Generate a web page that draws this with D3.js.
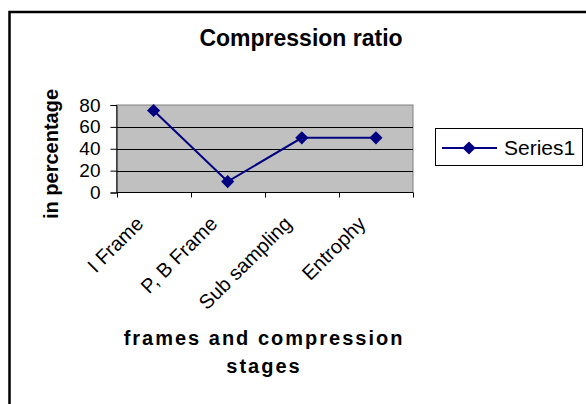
<!DOCTYPE html>
<html><head><meta charset="utf-8">
<script src="https://cdn.jsdelivr.net/npm/d3@7"></script>
<style>body{margin:0;background:#fff}svg{display:block;font-family:"Liberation Sans",Arial,sans-serif}</style>
</head><body><svg id="c" width="586" height="404"></svg>
<script>
const categories = ["I Frame", "P, B Frame", "Sub sampling", "Entrophy"];
const series1 = [75, 10, 50, 50];
const yTicks = [0, 20, 40, 60, 80];
const seriesName = "Series1";
const title = "Compression ratio";
const yTitle = "in percentage";
const xTitleLines = ["frames and compression", "stages"];

const svg = d3.select("#c");
// outer frame
svg.append("rect").attr("x", 9.5).attr("y", 12).attr("width", 600).attr("height", 420)
  .attr("fill", "none").attr("stroke", "#000").attr("stroke-width", 2.5);

const L = 116.5, R = 413, T = 105, B = 192.5;
const x = d3.scaleBand().domain(categories).range([L, R]);
const y = d3.scaleLinear().domain([0, 80]).range([B, T]);

// plot area
svg.append("rect").attr("x", L).attr("y", T).attr("width", R - L).attr("height", B - T)
  .attr("fill", "#c0c0c0").attr("stroke", "#808080").attr("stroke-width", 1);
// gridlines
svg.append("g").selectAll("line").data(yTicks.filter(d => d > 0 && d < 80)).join("line")
  .attr("x1", L).attr("x2", R).attr("y1", d => Math.round(y(d)) + 0.5).attr("y2", d => Math.round(y(d)) + 0.5)
  .attr("stroke", "#000").attr("stroke-width", 1);

// y axis
const yAxis = d3.axisLeft(y).tickValues(yTicks).tickSize(6).tickPadding(10).tickFormat(d3.format("d"));
const gy = svg.append("g").attr("transform", `translate(${L},0)`).call(yAxis);
gy.select(".domain").attr("stroke", "#000");
gy.selectAll("text").attr("font-size", 19).attr("fill", "#000").attr("font-family", "Liberation Sans, Arial, sans-serif");

// x axis
const gx = svg.append("g").attr("transform", `translate(0,${B})`);
gx.append("line").attr("x1", L).attr("x2", R).attr("y1", 0).attr("y2", 0).attr("stroke", "#000");
const bounds = categories.map(c => x(c)).concat([R]);
gx.selectAll("line.t").data(bounds).join("line").attr("class", "t")
  .attr("x1", d => Math.round(d) + 0.5).attr("x2", d => Math.round(d) + 0.5).attr("y1", 0).attr("y2", 5).attr("stroke", "#000");
svg.append("g").selectAll("text").data(categories).join("text")
  .attr("transform", d => `translate(${x(d) + x.bandwidth() / 2 - 9},225) rotate(-45)`)
  .attr("text-anchor", "end").attr("font-size", 20).attr("fill", "#000").text(d => d);

// series line
const cx = d => x(d) + x.bandwidth() / 2;
const line = d3.line().x((d, i) => cx(categories[i])).y(d => y(d));
svg.append("path").datum(series1).attr("d", line).attr("fill", "none").attr("stroke", "#000080").attr("stroke-width", 2);
const diamond = d3.symbol().type(d3.symbolDiamond2).size(110);
svg.append("g").selectAll("path").data(series1).join("path")
  .attr("transform", (d, i) => `translate(${cx(categories[i])},${y(d)})`)
  .attr("d", diamond).attr("fill", "#000080");

// title
svg.append("text").attr("x", 301).attr("y", 46).attr("text-anchor", "middle")
  .attr("font-size", 23).attr("font-weight", "bold").text(title);
// y title
svg.append("text").attr("transform", "translate(58,154) rotate(-90)").attr("text-anchor", "middle")
  .attr("font-size", 20).attr("font-weight", "bold").text(yTitle);
// x title
svg.append("g").selectAll("text").data(xTitleLines).join("text")
  .attr("x", 264).attr("y", (d, i) => 345 + i * 28).attr("text-anchor", "middle")
  .attr("font-size", 20).attr("font-weight", "bold").attr("letter-spacing", 2).text(d => d);

// legend
const lg = svg.append("g");
lg.append("rect").attr("x", 435.5).attr("y", 128.5).attr("width", 147).attr("height", 37)
  .attr("fill", "#fff").attr("stroke", "#000").attr("stroke-width", 1);
lg.append("line").attr("x1", 442).attr("x2", 497).attr("y1", 148).attr("y2", 148).attr("stroke", "#000080").attr("stroke-width", 2);
lg.append("path").attr("transform", "translate(469,148)").attr("d", diamond).attr("fill", "#000080");
lg.append("text").attr("x", 504).attr("y", 155).attr("font-size", 21).text(seriesName);
</script></body></html>
